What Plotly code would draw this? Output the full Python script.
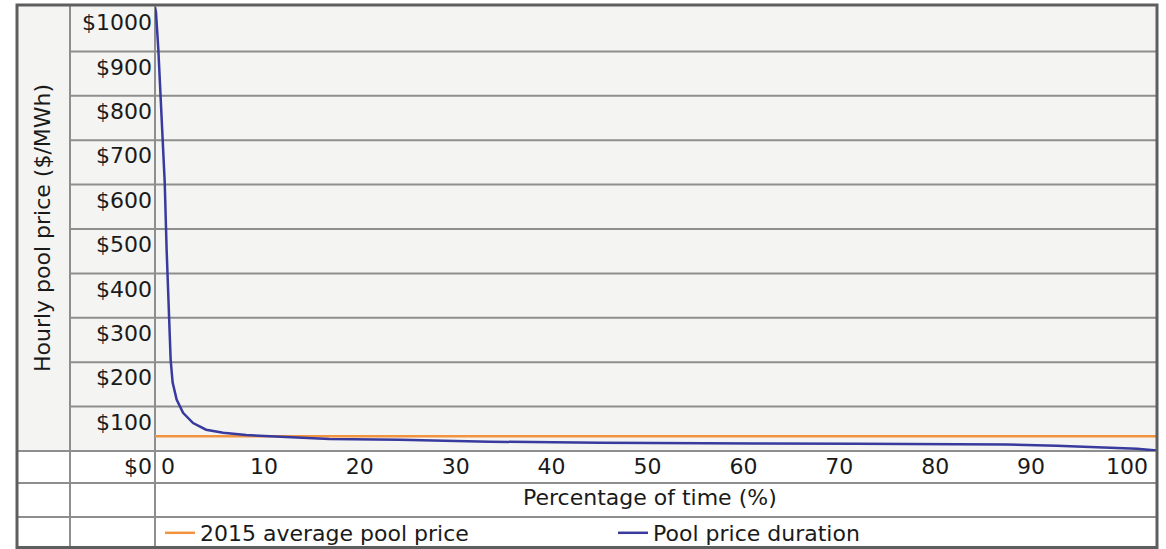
import plotly.graph_objects as go

# ---------------- data ----------------
pct_time = [0, 0.1, 0.33, 0.57, 0.83, 0.97, 1.16, 1.4, 1.56, 1.76, 2.16, 2.8, 3.8,
            5.1, 6.8, 9.1, 12.5, 17.4, 24.4, 33.4, 44.4, 50, 60, 70, 80, 85, 90,
            95, 98, 100]
pool_price = [1000, 988, 905, 792, 695, 605, 454, 303, 206, 154, 116, 86, 63,
              48, 41, 36, 32, 27, 25.5, 21, 18.5, 17.5, 17, 16.5, 16, 14.5, 12,
              8, 5, 1]
avg_price_2015 = 33.34
avg_x = [0, 100]

y_ticks = [0, 100, 200, 300, 400, 500, 600, 700, 800, 900, 1000]
y_tick_text = ["$0", "$100", "$200", "$300", "$400", "$500", "$600", "$700",
               "$800", "$900", "$1000"]
x_ticks = [0, 10, 20, 30, 40, 50, 60, 70, 80, 90, 100]
x_tick_text = ["0", "10", "20", "30", "40", "50", "60", "70", "80", "90", "100"]

# ---------------- styling / layout constants ----------------
W, H = 1166, 549
L, R, T, B = 155, 1157, 7, 451
PW, PH = R - L, B - T
FONT = "DejaVu Sans"
FS = 22
TXT = "#1a1a1a"
BG = "#f4f4f2"
GRID = "#8e8e8e"
BORDER = "#5e5e5e"
ORANGE = "#f2933f"
BLUE = "#383a9e"
X_LABEL_RANGE = [-1.36, 103.13]


def px_x(p):
    return (p - L) / PW


def px_y(p):
    return (B - p) / PH


fig = go.Figure()
fig.add_trace(go.Scatter(x=avg_x, y=[avg_price_2015] * len(avg_x), mode="lines",
                         name="2015 average pool price",
                         line=dict(color=ORANGE, width=2.5)))
fig.add_trace(go.Scatter(x=pct_time, y=pool_price, mode="lines",
                         name="Pool price duration",
                         line=dict(color=BLUE, width=2.5)))
# carrier for the tick-label axis
fig.add_trace(go.Scatter(x=[None], y=[None], xaxis="x2", yaxis="y",
                         showlegend=False, hoverinfo="skip"))

shapes = []
# light background of the chart block
shapes.append(dict(type="rect", xref="paper", yref="paper", x0=px_x(17), x1=1,
                   y0=0, y1=px_y(5), fillcolor=BG, line=dict(width=0),
                   layer="below"))
# horizontal grid lines (extend through tick-label column)
for v in y_ticks[1:-1]:
    shapes.append(dict(type="line", xref="paper", yref="y", x0=px_x(70), x1=1,
                       y0=v, y1=v, line=dict(color=GRID, width=2),
                       layer="below"))
# table row lines (zero line and rows below)
for p in [B, 483, 517]:
    shapes.append(dict(type="line", xref="paper", yref="paper", x0=px_x(17),
                       x1=1, y0=px_y(p), y1=px_y(p),
                       line=dict(color=GRID, width=2), layer="below"))
# table column lines
for p in [70, L]:
    shapes.append(dict(type="line", xref="paper", yref="paper", x0=px_x(p),
                       x1=px_x(p), y0=px_y(548), y1=px_y(5),
                       line=dict(color=GRID, width=2), layer="below"))
# outer border
shapes.append(dict(type="rect", xref="paper", yref="paper", x0=px_x(17),
                   x1=px_x(1157), y0=px_y(547.5), y1=px_y(5),
                   line=dict(color=BORDER, width=3), layer="above"))

annotations = [
    dict(text="Hourly pool price ($/MWh)", textangle=-90, xref="paper",
         yref="paper", x=px_x(42), y=px_y(228), xanchor="center",
         yanchor="middle", showarrow=False, font=dict(family=FONT, size=FS,
                                                     color=TXT)),
    dict(text="Percentage of time (%)", xref="paper", yref="paper",
         x=px_x(650), y=px_y(497), xanchor="center", yanchor="middle",
         showarrow=False, font=dict(family=FONT, size=FS, color=TXT)),
]

fig.update_layout(
    width=W, height=H,
    margin=dict(l=L, r=W - R, t=T, b=H - B, pad=0, autoexpand=False),
    paper_bgcolor="white", plot_bgcolor=BG,
    font=dict(family=FONT, size=FS, color=TXT),
    shapes=shapes, annotations=annotations,
    showlegend=True,
    legend=dict(orientation="h", x=px_x(160), xanchor="left", y=px_y(533),
                yanchor="middle", font=dict(family=FONT, size=FS, color=TXT),
                bgcolor="rgba(0,0,0,0)", entrywidth=408,
                entrywidthmode="pixels", itemwidth=30),
    xaxis=dict(range=[0, 100], showticklabels=False, showgrid=False,
               zeroline=False, showline=False, ticks=""),
    xaxis2=dict(overlaying="x", side="bottom", range=X_LABEL_RANGE,
                tickmode="array", tickvals=x_ticks, ticktext=x_tick_text,
                showgrid=False, zeroline=False, showline=False, ticks="",
                tickfont=dict(family=FONT, size=FS, color=TXT)),
    yaxis=dict(range=[0, 1000], tickmode="array", tickvals=y_ticks,
               ticktext=y_tick_text, ticklabelposition="outside bottom",
               ticklabelstandoff=2,
               showgrid=False, zeroline=False, showline=False, ticks="",
               tickfont=dict(family=FONT, size=FS, color=TXT)),
)

fig.write_html("out.html", config={"displayModeBar": False},
               post_script="document.body.style.margin='0';")
